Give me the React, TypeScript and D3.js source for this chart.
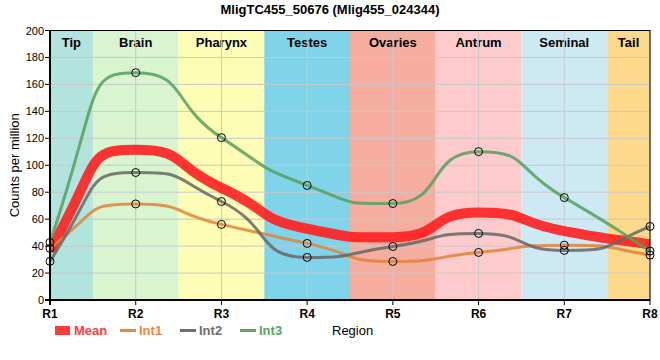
import React from 'react';
import * as d3 from 'd3';

const regions = ['R1', 'R2', 'R3', 'R4', 'R5', 'R6', 'R7', 'R8'];
const tissues = ['Tip', 'Brain', 'Pharynx', 'Testes', 'Ovaries', 'Antrum', 'Seminal', 'Tail'];
const tissueColors = ['#b3e3dd', '#d8f5d0', '#fdfdb6', '#80d4ea', '#f4ad9e', '#fdcbcb', '#cdeaf4', '#fdd98b'];

const int1 = [38.3, 71.3, 56.1, 42.0, 28.6, 35.3, 40.7, 33.3];
const int2 = [28.7, 94.6, 73.1, 31.6, 39.7, 49.4, 36.8, 54.6];
const int3 = [42.7, 168.7, 120.5, 85.0, 71.6, 110.1, 76.0, 36.3];
const mean = int1.map((v, i) => (v + int2[i] + int3[i]) / 3);

const yTicks = [0, 20, 40, 60, 80, 100, 120, 140, 160, 180, 200];

const seriesList = [
  { name: 'Mean', values: mean, color: '#ff1f1f', width: 10, opacity: 0.9, dots: false },
  { name: 'Int1', values: int1, color: '#e0843a', width: 3, opacity: 0.85, dots: true },
  { name: 'Int2', values: int2, color: '#666666', width: 3, opacity: 0.85, dots: true },
  { name: 'Int3', values: int3, color: '#55a05e', width: 3, opacity: 0.85, dots: true },
];

const W = 660;
const H = 360;
const margin = { top: 30.5, right: 10, bottom: 60, left: 50 };
const font = '"Liberation Sans", Arial, sans-serif';

// monotone tangents (same rule as d3.curveMonotoneX), but with longer control arms
const sign = (v: number) => (v < 0 ? -1 : 1);
function slope3(x0: number, y0: number, x1: number, y1: number, x2: number, y2: number) {
  const h0 = x1 - x0, h1 = x2 - x1;
  const s0 = (y1 - y0) / h0, s1 = (y2 - y1) / h1;
  const p = (s0 * h1 + s1 * h0) / (h0 + h1);
  return (sign(s0) + sign(s1)) * Math.min(Math.abs(s0), Math.abs(s1), 0.5 * Math.abs(p)) || 0;
}
function smoothPath(pts: [number, number][], k = 0.6) {
  const n = pts.length;
  const m: number[] = new Array(n).fill(0);
  for (let i = 1; i < n - 1; i++) {
    m[i] = slope3(pts[i - 1][0], pts[i - 1][1], pts[i][0], pts[i][1], pts[i + 1][0], pts[i + 1][1]);
  }
  const h0 = pts[1][0] - pts[0][0];
  m[0] = (3 * (pts[1][1] - pts[0][1]) / h0 - m[1]) / 2;
  const hn = pts[n - 1][0] - pts[n - 2][0];
  m[n - 1] = (3 * (pts[n - 1][1] - pts[n - 2][1]) / hn - m[n - 2]) / 2;
  const p = d3.path();
  p.moveTo(pts[0][0], pts[0][1]);
  for (let i = 0; i < n - 1; i++) {
    const [x0, y0] = pts[i];
    const [x1, y1] = pts[i + 1];
    const dx = (x1 - x0) * k;
    p.bezierCurveTo(x0 + dx, y0 + dx * m[i], x1 - dx, y1 - dx * m[i + 1], x1, y1);
  }
  return p.toString();
}

const App: React.FC = () => {
  const x = d3.scalePoint<string>().domain(regions).range([margin.left, W - margin.right]);
  const y = d3.scaleLinear().domain([0, 200]).range([H - margin.bottom, margin.top]);
  const step = x.step();

  const line = (vals: number[]) =>
    smoothPath(vals.map((v, i) => [x(regions[i]) as number, y(v)] as [number, number]));

  const left = margin.left;
  const right = W - margin.right;
  const top = margin.top;
  const bottom = H - margin.bottom;

  const legendItems = [
    { name: 'Mean', color: '#ff3b3b', x: 55, kind: 'rect' },
    { name: 'Int1', color: '#e48a45', x: 120, kind: 'line' },
    { name: 'Int2', color: '#6e6e6e', x: 180, kind: 'line' },
    { name: 'Int3', color: '#5aa563', x: 240, kind: 'line' },
  ];

  return (
    <svg width={W} height={H} style={{ display: 'block', position: 'absolute', left: 0, top: 0 }} fontFamily={font}>
      <defs>
        <clipPath id="plot">
          <rect x={left} y={top} width={right - left} height={bottom - top} />
        </clipPath>
      </defs>
      <text x={W / 2} y={14} textAnchor="middle" fontSize={13} fontWeight="bold">
        MligTC455_50676 (Mlig455_024344)
      </text>

      {/* tissue bands */}
      {tissues.map((t, i) => {
        const cx = x(regions[i]) as number;
        const x0 = Math.max(left, cx - step / 2);
        const x1 = Math.min(right, cx + step / 2);
        return (
          <g key={t}>
            <rect x={x0} y={top} width={x1 - x0} height={bottom - top} fill={tissueColors[i]} />
            <text x={(x0 + x1) / 2} y={top + 16} textAnchor="middle" fontSize={13} fontWeight="bold">{t}</text>
          </g>
        );
      })}

      {/* grid */}
      {yTicks.map(t => (
        <line key={'gy' + t} x1={left} x2={right} y1={y(t)} y2={y(t)} stroke="#c8c8c8" strokeWidth={1} />
      ))}
      {regions.map(r => (
        <line key={'gx' + r} x1={x(r)} x2={x(r)} y1={top} y2={bottom} stroke="#c8c8c8" strokeWidth={1} />
      ))}

      {/* series */}
      <g clipPath="url(#plot)">
        {seriesList.map(s => (
          <path key={s.name} d={line(s.values)} fill="none" stroke={s.color} strokeWidth={s.width}
            strokeOpacity={s.opacity} strokeLinecap="butt" />
        ))}
      </g>
      {seriesList.filter(s => s.dots).map(s => (
        <g key={'d' + s.name}>
          {s.values.map((v, i) => (
            <circle key={i} cx={x(regions[i])} cy={y(v)} r={4} fill="none" stroke="#000" strokeWidth={1} />
          ))}
        </g>
      ))}

      {/* frame and axes */}
      <rect x={left} y={top} width={right - left} height={bottom - top} fill="none" stroke="#000" strokeWidth={1} />
      <line x1={left} x2={left} y1={top} y2={bottom + 5} stroke="#000" strokeWidth={2} />
      <line x1={left - 5} x2={right} y1={bottom} y2={bottom} stroke="#000" strokeWidth={2} />

      {yTicks.map(t => (
        <g key={'ty' + t}>
          <line x1={left - 5} x2={left} y1={y(t)} y2={y(t)} stroke="#000" strokeWidth={1} />
          <text x={left - 6} y={y(t) + 4} textAnchor="end" fontSize={11}>{t}</text>
        </g>
      ))}
      {regions.map(r => (
        <g key={'tx' + r}>
          <line x1={x(r)} x2={x(r)} y1={bottom} y2={bottom + 5} stroke="#000" strokeWidth={1} />
          <text x={x(r)} y={bottom + 18} textAnchor="middle" fontSize={12} fontWeight="bold">{r}</text>
        </g>
      ))}

      <text transform={`translate(19,${(top + bottom) / 2}) rotate(-90)`} textAnchor="middle" fontSize={13}>
        Counts per million
      </text>

      {/* legend */}
      {legendItems.map(l => (
        <g key={'lg' + l.name}>
          {l.kind === 'rect'
            ? <rect x={l.x} y={326} width={15} height={9} fill={l.color} />
            : <line x1={l.x} x2={l.x + 16} y1={330.5} y2={330.5} stroke={l.color} strokeWidth={3} />}
          <text x={l.x + 19} y={335} fontSize={13} fontWeight="bold" fill={l.color}>{l.name}</text>
        </g>
      ))}
      <text x={332} y={335} fontSize={13}>Region</text>
    </svg>
  );
};

export default App;
